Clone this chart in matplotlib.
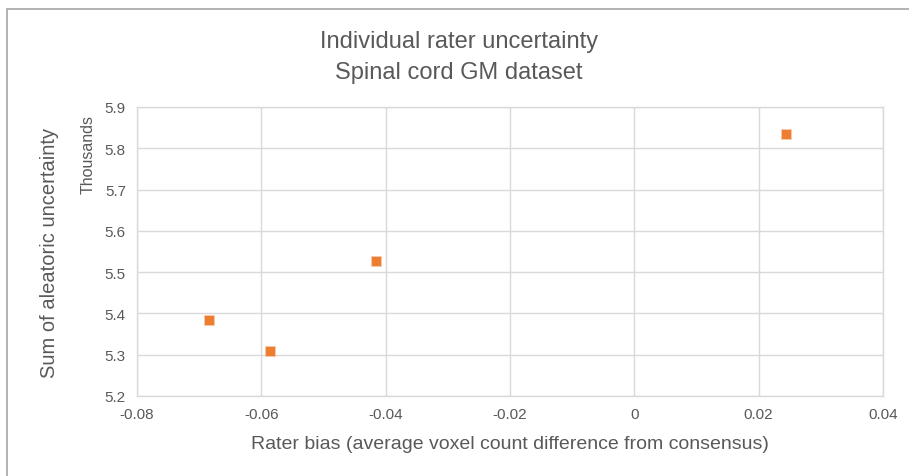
import matplotlib
matplotlib.use("Agg")
import matplotlib.pyplot as plt
from matplotlib.patches import Rectangle
from matplotlib.ticker import FixedLocator

# rater bias vs. summed aleatoric uncertainty (in thousands)
rater_bias = [-0.0684, -0.0586, -0.0415, 0.0244]
uncertainty_k = [5.384, 5.309, 5.526, 5.834]

x_ticks = [-0.08, -0.06, -0.04, -0.02, 0, 0.02, 0.04]
x_tick_labels = ["-0.08", "-0.06", "-0.04", "-0.02", "0", "0.02", "0.04"]
y_ticks = [5.2, 5.3, 5.4, 5.5, 5.6, 5.7, 5.8, 5.9]
y_tick_labels = ["5.2", "5.3", "5.4", "5.5", "5.6", "5.7", "5.8", "5.9"]

FONT = ["Liberation Sans", "DejaVu Sans"]
TXT = "#595959"
GRID = "#D9D9D9"
ORANGE = "#ED7D31"

plt.rcParams["font.family"] = FONT

W, H = 909, 477
fig = plt.figure(figsize=(W / 100, H / 100), dpi=100)

# outer chart border (only top/left fall inside the picture)
fig.patches.append(Rectangle((7 / W, -0.05), 1.1, 1 - 10 / H + 0.05,
                             transform=fig.transFigure, fill=False,
                             edgecolor="#A6A6A6", linewidth=1.2))

ax = fig.add_axes([137 / W, (H - 397) / H, (883 - 137) / W, (397 - 108) / H])
ax.scatter(rater_bias, uncertainty_k, marker="s", s=55, color=ORANGE,
           edgecolors="#F8CBAD", linewidths=0.6, zorder=3)

ax.set_xlim(-0.08, 0.04)
ax.set_ylim(5.2, 5.9)
ax.xaxis.set_major_locator(FixedLocator(x_ticks))
ax.yaxis.set_major_locator(FixedLocator(y_ticks))
ax.set_xticklabels(x_tick_labels)
ax.set_yticklabels(y_tick_labels)
ax.tick_params(length=0, colors=TXT, labelsize=11, pad=8)
ax.grid(True, color=GRID, linewidth=1.0)
ax.set_axisbelow(True)
for s in ax.spines.values():
    s.set_color(GRID)
    s.set_linewidth(1.0)

ax.set_xlabel("Rater bias (average voxel count difference from consensus)",
              fontsize=14, color=TXT, labelpad=10)
ax.set_ylabel("Sum of aleatoric uncertainty", fontsize=14.5, color=TXT,
              labelpad=33)
fig.text(88 / W, 1 - 155 / H, "Thousands", rotation=90, ha="center",
         va="center", fontsize=11.5, color=TXT)

fig.text(459 / W, 1 - 42 / H, "Individual rater uncertainty", ha="center",
         va="center", fontsize=17, color=TXT)
fig.text(459 / W, 1 - 73 / H, "Spinal cord GM dataset", ha="center",
         va="center", fontsize=17, color=TXT)

fig.savefig("out.png", dpi=100)
